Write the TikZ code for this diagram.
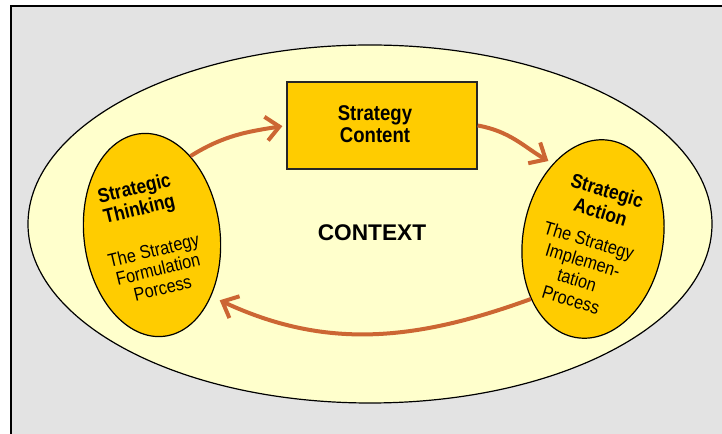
\documentclass[tikz,border=0pt]{standalone}
\usepackage{fontspec}
\setmainfont{Liberation Sans}
\newfontfamily\narrowsans[FakeStretch=0.87]{Liberation Sans}
\usetikzlibrary{shapes.geometric,arrows.meta}
\definecolor{panelgrey}{HTML}{E3E3E3}
\definecolor{ctxyellow}{HTML}{FFFFCC}
\definecolor{gold}{HTML}{FFCC00}
\definecolor{flow}{HTML}{CC6633}
\tikzset{
  ctx/.style={ellipse, draw=black, line width=0.9pt, fill=ctxyellow, inner sep=0pt},
  phase/.style={ellipse, draw=black, line width=0.9pt, fill=gold, inner sep=0pt},
  contentbox/.style={rectangle, draw=black!85, line width=1pt, fill=gold, inner sep=0pt},
  title/.style={align=center, inner sep=0pt, font=\narrowsans\bfseries\fontsize{15}{16}\selectfont},
  subtitle/.style={align=center, inner sep=0pt, font=\narrowsans\fontsize{14}{14.5}\selectfont},
  flowarrow/.style={draw=flow, line width=3pt, -{Straight Barb[length=10pt,width=18pt]}}
}
\begin{document}
\begin{tikzpicture}[x=0.75pt,y=-0.75pt]
\useasboundingbox (0,0) rectangle (722,434);
% panel
\fill[panelgrey] (11,6) rectangle (722,434);
\draw[line width=1.6pt] (11,434) -- (11,6) -- (722,6);

% context ellipse
\node[ctx, minimum width=513pt, minimum height=268.5pt] (context) at (370,224) {};
\node[font=\bfseries\fontsize{17}{20}\selectfont, inner sep=0pt] (ctxlabel) at (372,233) {CONTEXT};

% strategy content
\node[contentbox, minimum width=142.5pt, minimum height=65.25pt] (content) at (382,125.5) {};
\node[align=center, inner sep=0pt, font=\narrowsans\bfseries\fontsize{16}{17}\selectfont]
  (contentlabel) at (375,124) {Strategy\\Content};

% thinking / action ellipses
\node[phase, minimum width=102pt, minimum height=153pt, rotate=7] (think) at (152,235) {};
\node[phase, minimum width=105pt, minimum height=150pt, rotate=-10] (act) at (593,239) {};

\node[title, rotate=13.5] (thinkt) at (137,200) {Strategic\\Thinking};
\node[subtitle, rotate=13.5] (thinks) at (158,269) {The Strategy\\Formulation\\Porcess};

\node[title, rotate=-17, font=\narrowsans\bfseries\fontsize{15}{17}\selectfont] (actt) at (604,201) {Strategic\\Action};
\node[subtitle, rotate=-17, font=\narrowsans\fontsize{14}{15.5}\selectfont] (acts) at (580,270) {The Strategy\\Implemen-\\tation\\Process};

% cycle arrows
\draw[flowarrow, shorten >=3pt] (think.57) to[out=32, in=189] (content.west);
\draw[flowarrow, shorten >=4pt] (content.east) to[out=-10, in=150] (act.128);
\draw[flowarrow, shorten >=7pt] (act.234) to[out=200, in=-25] (think.-53);
\end{tikzpicture}
\end{document}
